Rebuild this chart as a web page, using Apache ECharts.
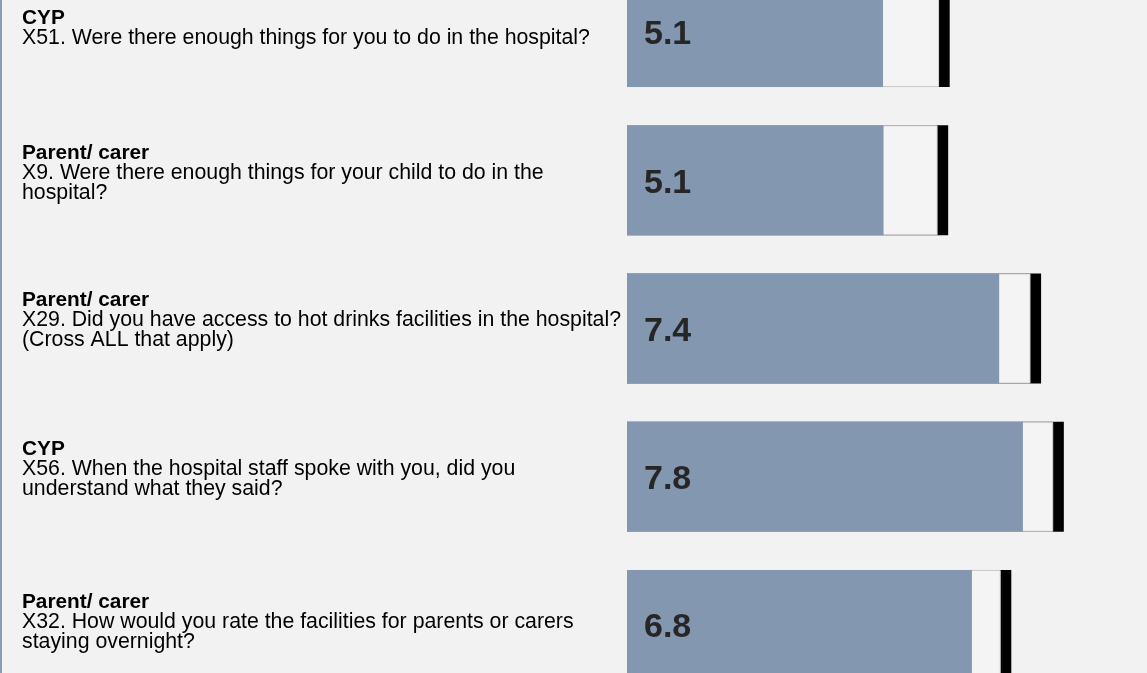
<!DOCTYPE html>
<html>
<head>
<meta charset="utf-8">
<script src="https://cdn.jsdelivr.net/npm/echarts@6/dist/echarts.min.js"></script>
<style>
html,body{margin:0;padding:0;background:#f2f2f2;overflow:hidden;width:1147px;height:673px;}
#wrap{position:absolute;left:0;top:0;width:1147px;height:673px;overflow:hidden;box-sizing:border-box;border-left:2px solid #8a9bb4;}
#chart{position:absolute;left:-2px;top:-42px;width:1147px;height:741px;}
</style>
</head>
<body>
<div id="wrap"><div id="chart"></div></div>
<script>
// ---- data ----
const groups = ['CYP', 'Parent/ carer', 'Parent/ carer', 'CYP', 'Parent/ carer'];
const questions = [
  'X51. Were there enough things for you to do in the hospital?',
  'X9. Were there enough things for your child to do in the\nhospital?',
  'X29. Did you have access to hot drinks facilities in the hospital?\n(Cross ALL that apply)',
  'X56. When the hospital staff spoke with you, did you\nunderstand what they said?',
  'X32. How would you rate the facilities for parents or carers\nstaying overnight?'
];
const scores = [5.07, 5.08, 7.37, 7.84, 6.83];      // blue bars
const bandUpper = [6.18, 6.15, 7.99, 8.44, 7.40];   // end of light band
const markerEnd = [6.39, 6.36, 8.20, 8.65, 7.61];   // end of black marker

// layout only: extra space under each label block (px) to lift it
const labelLift = [7, 14, 16, 15, 6];

const categories = questions.map((q, i) => i);

const chart = echarts.init(document.getElementById('chart'), null, {renderer: 'canvas'});
const FONT = '"Liberation Sans", Arial, sans-serif';

chart.setOption({
  backgroundColor: 'transparent',
  animation: false,
  grid: {left: 627, right: 15, top: 0, bottom: 0, containLabel: false},
  xAxis: {
    type: 'value', min: 0, max: 10, show: false
  },
  yAxis: {
    type: 'category', inverse: true, data: categories,
    axisLine: {show: false}, axisTick: {show: false},
    axisLabel: {
      margin: 605, align: 'left', verticalAlign: 'middle',
      formatter: (v) => '{b|' + groups[v] + '}\n' +
        questions[v].split('\n').map(s => '{q|' + s + '}').join('\n') +
        '\n{sp' + v + '| }',
      rich: Object.assign({
        b: {fontFamily: FONT, fontWeight: 'bold', fontSize: 20.8, lineHeight: 20, color: '#000'},
        q: {fontFamily: FONT, fontSize: 21.3, lineHeight: 20, color: '#000'}
      }, Object.fromEntries(labelLift.map((h, i) => ['sp' + i, {fontSize: 1, lineHeight: h}])))
    }
  },
  series: [
    {
      type: 'bar', data: markerEnd, barWidth: 110, barGap: '-100%',
      itemStyle: {color: '#000000'},
      silent: true
    },
    {
      type: 'bar', data: bandUpper, barWidth: 110, barGap: '-100%',
      itemStyle: {color: '#f4f4f4', borderColor: '#d4d4d4', borderWidth: 1},
      silent: true
    },
    {
      type: 'bar', data: scores, barWidth: 110, barGap: '-100%',
      itemStyle: {color: '#8497b0'},
      label: {
        show: true, position: 'insideLeft', distance: 17, offset: [0, 3],
        formatter: (p) => p.value.toFixed(1),
        fontFamily: FONT, fontWeight: 'bold', fontSize: 34, color: '#262626'
      },
      silent: true
    }
  ]
});
</script>
</body>
</html>
